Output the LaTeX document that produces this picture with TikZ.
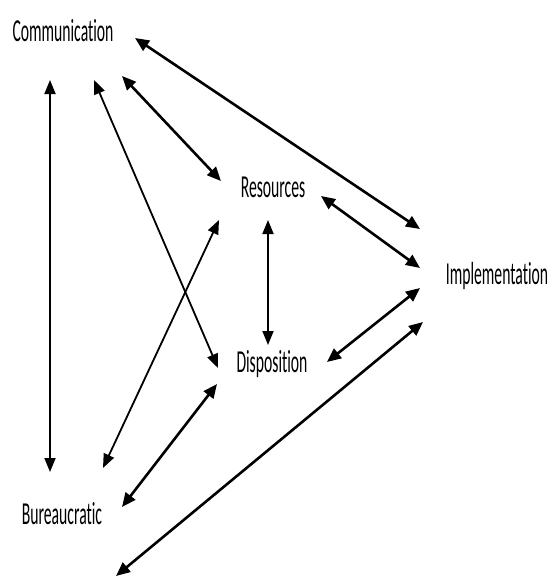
\documentclass[tikz,border=0pt]{standalone}
\usepackage{fontspec}
\setmainfont{Carlito}[Ligatures=NoCommon]
\usetikzlibrary{arrows.meta}
\newcommand{\sqz}[1]{\scalebox{0.49}[1]{#1}}
\tikzset{
  lbl/.style={inner sep=0pt, font=\fontsize{32}{34}\selectfont, text=black},
  link/.style={{Triangle[length=14pt,width=12pt]}-{Triangle[length=14pt,width=12pt]}, line width=2.6pt, black},
  vlink/.style={{Triangle[length=14pt,width=11pt]}-{Triangle[length=14pt,width=11pt]}, line width=1.8pt, black}
}
\begin{document}
\begin{tikzpicture}[x=1pt,y=-1pt]
\useasboundingbox (0,0) rectangle (550,578);
\node[lbl] (com) at (63,31) {\sqz{Communication}};
\node[lbl] (res) at (273,187) {\sqz{Resources}};
\node[lbl] (imp) at (497,276) {\sqz{Implementation}};
\node[lbl] (dis) at (272,364) {\sqz{Disposition}};
\node[lbl] (bur) at (62,514) {\sqz{Bureaucratic}};
% anchor coordinates for arrow ends
\coordinate (comR) at (135,38);
\coordinate (comRb) at (122,76);
\coordinate (comB) at (94,80);
\coordinate (comL) at (50,80);
\coordinate (impT) at (420,229);
\coordinate (impM) at (420,268);
\coordinate (impN) at (420,288);
\coordinate (impB) at (423,322);
\coordinate (resL) at (221,181);
\coordinate (resBL) at (219,220);
\coordinate (resB) at (268,220);
\coordinate (resR) at (321,196);
\coordinate (disT) at (268,345);
\coordinate (disL) at (218,368);
\coordinate (disBL) at (217,384);
\coordinate (disR) at (327,362);
\coordinate (burT) at (50,472);
\coordinate (burTR) at (103,468);
\coordinate (burR) at (122,507);
\coordinate (freeEnd) at (116,576);
\draw[link] (comR) -- (impT);
\draw[link] (comRb) -- (resL);
\draw[vlink] (comB) -- (disL);
\draw[vlink] (comL) -- (burT);
\draw[vlink] (resBL) -- (burTR);
\draw[vlink] (resB) -- (disT);
\draw[link] (resR) -- (impM);
\draw[link] (disR) -- (impN);
\draw[link] (disBL) -- (burR);
\draw[link] (freeEnd) -- (impB);
\end{tikzpicture}
\end{document}
